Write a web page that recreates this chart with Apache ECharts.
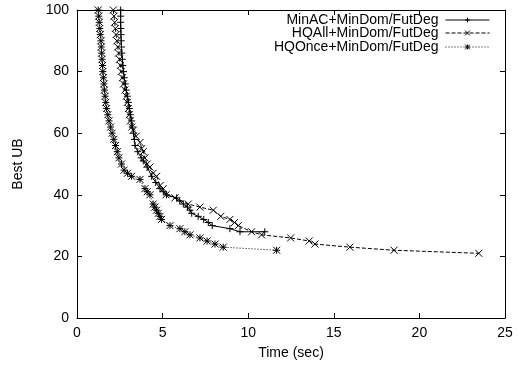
<!DOCTYPE html>
<html>
<head>
<meta charset="utf-8">
<script src="https://cdn.jsdelivr.net/npm/echarts@6/dist/echarts.min.js"></script>
<style>
  html, body { margin: 0; padding: 0; background: #fff; }
  #chart { width: 518px; height: 370px; }
</style>
</head>
<body>
<div id="chart"></div>
<script>
// series names
const names = ['MinAC+MinDom/FutDeg', 'HQAll+MinDom/FutDeg', 'HQOnce+MinDom/FutDeg'];

// [time (sec), best UB]
const minAC = [
  [2.55, 100], [2.55, 98], [2.55, 96], [2.56, 94], [2.57, 92], [2.58, 90], [2.60, 88],
  [2.62, 86], [2.65, 84], [2.68, 82], [2.72, 80], [2.76, 78], [2.82, 76], [2.88, 74],
  [2.94, 72], [3.0, 70], [3.06, 68], [3.12, 66], [3.19, 64], [3.23, 62], [3.3, 60],
  [3.35, 58], [3.39, 56], [3.55, 54], [3.75, 52], [3.87, 51], [4.1, 49], [4.36, 46],
  [4.6, 44], [4.85, 42], [5.04, 41], [5.23, 40], [5.82, 39], [6.0, 38], [6.21, 37],
  [6.45, 36], [6.6, 35], [6.7, 34], [7.08, 33], [7.4, 32], [7.67, 31], [7.9, 30],
  [8.93, 29], [9.52, 28], [10.97, 28]
];
const hqAll = [
  [2.12, 100], [2.16, 98], [2.20, 96], [2.24, 94], [2.28, 92], [2.33, 90], [2.38, 88],
  [2.43, 86], [2.48, 84], [2.53, 82], [2.58, 80], [2.65, 78], [2.72, 76], [2.80, 74],
  [2.88, 72], [2.94, 70], [3.0, 68], [3.06, 66], [3.12, 64], [3.2, 62], [3.29, 61],
  [3.45, 59], [3.68, 57], [3.78, 55], [3.87, 54], [3.97, 52], [4.1, 50], [4.26, 49],
  [4.45, 47], [4.65, 46], [4.85, 43], [5.04, 42], [5.2, 40], [5.72, 39], [6.5, 37],
  [7.18, 36], [7.96, 35], [8.4, 33], [8.93, 32], [9.2, 31], [9.42, 30], [10.2, 28],
  [10.78, 27], [12.48, 26], [13.56, 25], [13.9, 24], [15.94, 23], [18.52, 22], [23.47, 21]
];
const hqOnce = [
  [1.24, 100], [1.27, 98], [1.30, 96], [1.33, 94], [1.36, 92], [1.40, 90], [1.42, 88],
  [1.44, 86], [1.46, 84], [1.49, 82], [1.51, 80], [1.54, 78], [1.57, 76], [1.60, 74],
  [1.64, 72], [1.68, 70], [1.73, 68], [1.80, 66], [1.87, 64], [1.96, 62], [2.05, 60],
  [2.15, 58], [2.25, 56], [2.35, 54], [2.45, 52], [2.6, 50], [2.75, 48], [2.95, 47],
  [3.19, 46], [3.68, 45], [3.97, 42], [4.1, 41], [4.26, 40], [4.45, 37], [4.55, 36],
  [4.65, 35], [4.75, 34], [4.85, 33], [4.94, 32], [5.43, 30], [6.01, 29], [6.3, 28],
  [6.6, 27], [7.18, 26], [7.6, 25], [8.06, 24], [8.54, 23], [11.66, 22]
];

// axis ticks
const xTicks = { min: 0, max: 25, step: 5 };
const yTicks = { min: 0, max: 100, step: 20 };

const font = 'Liberation Sans, Arial, Helvetica, sans-serif';

// gnuplot point types: + , x , *
const plusSym = 'path://M0,5L10,5M5,0L5,10';
const crossSym = 'path://M0,0L10,10M10,0L0,10';
const starSym = 'path://M0,0L10,10M10,0L0,10M5,0L5,10M0,5L10,5';

function axisCommon(showLabel) {
  return {
    axisLine: { show: true, onZero: false, lineStyle: { color: '#000', width: 1 } },
    axisTick: { show: true, inside: true, length: 5, lineStyle: { color: '#000' } },
    axisLabel: { show: showLabel, color: '#000', fontSize: 14, fontFamily: font },
    splitLine: { show: false }
  };
}

function makeSeries(name, data, symbol, dash) {
  return {
    name: name,
    type: 'line',
    data: data,
    symbol: symbol,
    symbolSize: 7,
    showAllSymbol: true,
    animation: false,
    lineStyle: { color: '#000', width: 1, type: dash },
    itemStyle: { color: '#000', borderColor: '#000', borderWidth: 1 }
  };
}

function legendRow(name, top) {
  return {
    data: [name],
    right: 28,
    top: top,
    align: 'right',
    itemWidth: 44,
    itemHeight: 6,
    itemGap: 0,
    padding: 0,
    lineStyle: { width: 1 },
    itemStyle: { borderWidth: 1 },
    textStyle: { color: '#000', fontSize: 14, fontFamily: font, padding: [0, 2, 0, 0] }
  };
}

const chart = echarts.init(document.getElementById('chart'), null, { renderer: 'canvas' });

chart.setOption({
  backgroundColor: '#fff',
  animation: false,
  grid: { left: 77, right: 13, top: 10, bottom: 52 },
  legend: [
    legendRow(names[0], 13),
    legendRow(names[1], 26),
    legendRow(names[2], 40)
  ],
  xAxis: [
    Object.assign({
      type: 'value', min: xTicks.min, max: xTicks.max, interval: xTicks.step,
      position: 'bottom',
      name: 'Time (sec)', nameLocation: 'middle', nameGap: 28,
      nameTextStyle: { color: '#000', fontSize: 14, fontFamily: font }
    }, axisCommon(true)),
    Object.assign({
      type: 'value', min: xTicks.min, max: xTicks.max, interval: xTicks.step,
      position: 'top'
    }, axisCommon(false))
  ],
  yAxis: [
    Object.assign({
      type: 'value', min: yTicks.min, max: yTicks.max, interval: yTicks.step,
      position: 'left',
      name: 'Best UB', nameLocation: 'middle', nameGap: 52, nameRotate: 90,
      nameTextStyle: { color: '#000', fontSize: 14, fontFamily: font }
    }, axisCommon(true)),
    Object.assign({
      type: 'value', min: yTicks.min, max: yTicks.max, interval: yTicks.step,
      position: 'right'
    }, axisCommon(false))
  ],
  series: [
    makeSeries(names[0], minAC, plusSym, 'solid'),
    makeSeries(names[1], hqAll, crossSym, [4, 2]),
    makeSeries(names[2], hqOnce, starSym, [1, 2])
  ]
});
</script>
</body>
</html>
